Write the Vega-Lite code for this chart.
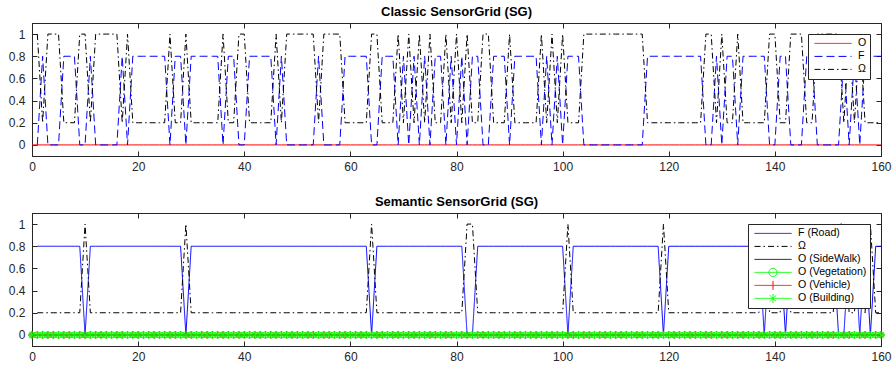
{
"$schema":"https://vega.github.io/schema/vega-lite/v6.json",
"background":"white",
"padding":{"left":7,"top":5,"right":0,"bottom":0},
"spacing":22,
"resolve":{"scale":{"color":"independent","strokeDash":"independent","x":"independent","y":"independent"},"legend":{"color":"independent","strokeDash":"independent"}},
"config":{
"font":"Liberation Sans",
"view":{"stroke":"#262626","strokeWidth":1},
"axis":{"domainColor":"#262626","domainWidth":1,"tickColor":"#262626","tickSize":-5,"tickWidth":1,"labelFontSize":12,"labelColor":"#262626","labelFont":"Liberation Sans","grid":false,"title":null,"labelFlush":false,"labelOverlap":false},
"title":{"fontSize":13,"fontWeight":"bold","color":"#000000","font":"Liberation Sans","offset":4},
"legend":{"orient":"top-right","offset":11,"padding":3,"strokeColor":"#262626","fillColor":"#ffffff","labelFontSize":10.6,"labelColor":"#000000","labelFont":"Liberation Sans","symbolSize":1369,"symbolStrokeWidth":1,"clipHeight":12.8,"rowPadding":0,"symbolOffset":3,"labelOffset":6,"cornerRadius":0,"title":null}
},
"datasets":{
"top":[
{"x":0,"O":0},
{"x":1,"O":0,"F":0,"Ω":1},{"x":2,"O":0,"F":0.8,"Ω":0.2},{"x":3,"O":0,"F":0,"Ω":1},{"x":4,"O":0,"F":0,"Ω":1},{"x":5,"O":0,"F":0,"Ω":1},
{"x":6,"O":0,"F":0.8,"Ω":0.2},{"x":7,"O":0,"F":0.8,"Ω":0.2},{"x":8,"O":0,"F":0.8,"Ω":0.2},{"x":9,"O":0,"F":0,"Ω":1},{"x":10,"O":0,"F":0,"Ω":1},
{"x":11,"O":0,"F":0.8,"Ω":0.2},{"x":12,"O":0,"F":0,"Ω":1},{"x":13,"O":0,"F":0,"Ω":1},{"x":14,"O":0,"F":0,"Ω":1},{"x":15,"O":0,"F":0,"Ω":1},
{"x":16,"O":0,"F":0,"Ω":1},{"x":17,"O":0,"F":0.8,"Ω":0.2},{"x":18,"O":0,"F":0,"Ω":1},{"x":19,"O":0,"F":0.8,"Ω":0.2},{"x":20,"O":0,"F":0.8,"Ω":0.2},
{"x":21,"O":0,"F":0.8,"Ω":0.2},{"x":22,"O":0,"F":0.8,"Ω":0.2},{"x":23,"O":0,"F":0.8,"Ω":0.2},{"x":24,"O":0,"F":0.8,"Ω":0.2},{"x":25,"O":0,"F":0.8,"Ω":0.2},
{"x":26,"O":0,"F":0,"Ω":1},{"x":27,"O":0,"F":0.8,"Ω":0.2},{"x":28,"O":0,"F":0.8,"Ω":0.2},{"x":29,"O":0,"F":0,"Ω":1},{"x":30,"O":0,"F":0.8,"Ω":0.2},
{"x":31,"O":0,"F":0.8,"Ω":0.2},{"x":32,"O":0,"F":0.8,"Ω":0.2},{"x":33,"O":0,"F":0.8,"Ω":0.2},{"x":34,"O":0,"F":0.8,"Ω":0.2},{"x":35,"O":0,"F":0.8,"Ω":0.2},
{"x":36,"O":0,"F":0,"Ω":1},{"x":37,"O":0,"F":0.8,"Ω":0.2},{"x":38,"O":0,"F":0.8,"Ω":0.2},{"x":39,"O":0,"F":0,"Ω":1},{"x":40,"O":0,"F":0,"Ω":1},
{"x":41,"O":0,"F":0.8,"Ω":0.2},{"x":42,"O":0,"F":0.8,"Ω":0.2},{"x":43,"O":0,"F":0.8,"Ω":0.2},{"x":44,"O":0,"F":0.8,"Ω":0.2},{"x":45,"O":0,"F":0.8,"Ω":0.2},
{"x":46,"O":0,"F":0,"Ω":1},{"x":47,"O":0,"F":0.8,"Ω":0.2},{"x":48,"O":0,"F":0,"Ω":1},{"x":49,"O":0,"F":0,"Ω":1},{"x":50,"O":0,"F":0,"Ω":1},
{"x":51,"O":0,"F":0,"Ω":1},{"x":52,"O":0,"F":0,"Ω":1},{"x":53,"O":0,"F":0,"Ω":1},{"x":54,"O":0,"F":0.8,"Ω":0.2},{"x":55,"O":0,"F":0,"Ω":1},
{"x":56,"O":0,"F":0,"Ω":1},{"x":57,"O":0,"F":0,"Ω":1},{"x":58,"O":0,"F":0,"Ω":1},{"x":59,"O":0,"F":0.8,"Ω":0.2},{"x":60,"O":0,"F":0.8,"Ω":0.2},
{"x":61,"O":0,"F":0.8,"Ω":0.2},{"x":62,"O":0,"F":0.8,"Ω":0.2},{"x":63,"O":0,"F":0.8,"Ω":0.2},{"x":64,"O":0,"F":0,"Ω":1},{"x":65,"O":0,"F":0,"Ω":1},
{"x":66,"O":0,"F":0.8,"Ω":0.2},{"x":67,"O":0,"F":0.8,"Ω":0.2},{"x":68,"O":0,"F":0.8,"Ω":0.2},{"x":69,"O":0,"F":0,"Ω":1},{"x":70,"O":0,"F":0.8,"Ω":0.2},
{"x":71,"O":0,"F":0,"Ω":1},{"x":72,"O":0,"F":0.8,"Ω":0.2},{"x":73,"O":0,"F":0,"Ω":1},{"x":74,"O":0,"F":0.8,"Ω":0.2},{"x":75,"O":0,"F":0,"Ω":1},
{"x":76,"O":0,"F":0.8,"Ω":0.2},{"x":77,"O":0,"F":0.8,"Ω":0.2},{"x":78,"O":0,"F":0,"Ω":1},{"x":79,"O":0,"F":0.8,"Ω":0.2},{"x":80,"O":0,"F":0,"Ω":1},
{"x":81,"O":0,"F":0.8,"Ω":0.2},{"x":82,"O":0,"F":0,"Ω":1},{"x":83,"O":0,"F":0.8,"Ω":0.2},{"x":84,"O":0,"F":0.8,"Ω":0.2},{"x":85,"O":0,"F":0,"Ω":1},
{"x":86,"O":0,"F":0,"Ω":1},{"x":87,"O":0,"F":0.8,"Ω":0.2},{"x":88,"O":0,"F":0.8,"Ω":0.2},{"x":89,"O":0,"F":0.8,"Ω":0.2},{"x":90,"O":0,"F":0,"Ω":1},
{"x":91,"O":0,"F":0.8,"Ω":0.2},{"x":92,"O":0,"F":0.8,"Ω":0.2},{"x":93,"O":0,"F":0.8,"Ω":0.2},{"x":94,"O":0,"F":0.8,"Ω":0.2},{"x":95,"O":0,"F":0.8,"Ω":0.2},
{"x":96,"O":0,"F":0,"Ω":1},{"x":97,"O":0,"F":0.8,"Ω":0.2},{"x":98,"O":0,"F":0,"Ω":1},{"x":99,"O":0,"F":0.8,"Ω":0.2},{"x":100,"O":0,"F":0,"Ω":1},
{"x":101,"O":0,"F":0.8,"Ω":0.2},{"x":102,"O":0,"F":0.8,"Ω":0.2},{"x":103,"O":0,"F":0.8,"Ω":0.2},{"x":104,"O":0,"F":0,"Ω":1},{"x":105,"O":0,"F":0,"Ω":1},
{"x":106,"O":0,"F":0,"Ω":1},{"x":107,"O":0,"F":0,"Ω":1},{"x":108,"O":0,"F":0,"Ω":1},{"x":109,"O":0,"F":0,"Ω":1},{"x":110,"O":0,"F":0,"Ω":1},
{"x":111,"O":0,"F":0,"Ω":1},{"x":112,"O":0,"F":0,"Ω":1},{"x":113,"O":0,"F":0,"Ω":1},{"x":114,"O":0,"F":0,"Ω":1},{"x":115,"O":0,"F":0,"Ω":1},
{"x":116,"O":0,"F":0.8,"Ω":0.2},{"x":117,"O":0,"F":0.8,"Ω":0.2},{"x":118,"O":0,"F":0.8,"Ω":0.2},{"x":119,"O":0,"F":0.8,"Ω":0.2},{"x":120,"O":0,"F":0.8,"Ω":0.2},
{"x":121,"O":0,"F":0.8,"Ω":0.2},{"x":122,"O":0,"F":0.8,"Ω":0.2},{"x":123,"O":0,"F":0.8,"Ω":0.2},{"x":124,"O":0,"F":0.8,"Ω":0.2},{"x":125,"O":0,"F":0.8,"Ω":0.2},
{"x":126,"O":0,"F":0.8,"Ω":0.2},{"x":127,"O":0,"F":0,"Ω":1},{"x":128,"O":0,"F":0,"Ω":1},{"x":129,"O":0,"F":0.8,"Ω":0.2},{"x":130,"O":0,"F":0,"Ω":1},
{"x":131,"O":0,"F":0.8,"Ω":0.2},{"x":132,"O":0,"F":0.8,"Ω":0.2},{"x":133,"O":0,"F":0,"Ω":1},{"x":134,"O":0,"F":0.8,"Ω":0.2},{"x":135,"O":0,"F":0.8,"Ω":0.2},
{"x":136,"O":0,"F":0.8,"Ω":0.2},{"x":137,"O":0,"F":0.8,"Ω":0.2},{"x":138,"O":0,"F":0.8,"Ω":0.2},{"x":139,"O":0,"F":0,"Ω":1},{"x":140,"O":0,"F":0,"Ω":1},
{"x":141,"O":0,"F":0.8,"Ω":0.2},{"x":142,"O":0,"F":0.8,"Ω":0.2},{"x":143,"O":0,"F":0,"Ω":1},{"x":144,"O":0,"F":0,"Ω":1},{"x":145,"O":0,"F":0,"Ω":1},
{"x":146,"O":0,"F":0.8,"Ω":0.2},{"x":147,"O":0,"F":0.8,"Ω":0.2},{"x":148,"O":0,"F":0,"Ω":1},{"x":149,"O":0,"F":0,"Ω":1},{"x":150,"O":0,"F":0,"Ω":1},
{"x":151,"O":0,"F":0,"Ω":1},{"x":152,"O":0,"F":0,"Ω":1},{"x":153,"O":0,"F":0.8,"Ω":0.2},{"x":154,"O":0,"F":0,"Ω":1},{"x":155,"O":0,"F":0.8,"Ω":0.2},
{"x":156,"O":0,"F":0,"Ω":1},{"x":157,"O":0,"F":0.8,"Ω":0.2},{"x":158,"O":0,"F":0.8,"Ω":0.2},{"x":159,"O":0,"F":0.8,"Ω":0.2},{"x":160,"O":0,"F":0.8,"Ω":0.2}
],
"bot":[
{"x":0,"O":0},
{"x":1,"O":0,"F":0.8,"Ω":0.2},{"x":2,"O":0,"F":0.8,"Ω":0.2},{"x":3,"O":0,"F":0.8,"Ω":0.2},{"x":4,"O":0,"F":0.8,"Ω":0.2},{"x":5,"O":0,"F":0.8,"Ω":0.2},
{"x":6,"O":0,"F":0.8,"Ω":0.2},{"x":7,"O":0,"F":0.8,"Ω":0.2},{"x":8,"O":0,"F":0.8,"Ω":0.2},{"x":9,"O":0,"F":0.8,"Ω":0.2},{"x":10,"O":0,"F":0,"Ω":1},
{"x":11,"O":0,"F":0.8,"Ω":0.2},{"x":12,"O":0,"F":0.8,"Ω":0.2},{"x":13,"O":0,"F":0.8,"Ω":0.2},{"x":14,"O":0,"F":0.8,"Ω":0.2},{"x":15,"O":0,"F":0.8,"Ω":0.2},
{"x":16,"O":0,"F":0.8,"Ω":0.2},{"x":17,"O":0,"F":0.8,"Ω":0.2},{"x":18,"O":0,"F":0.8,"Ω":0.2},{"x":19,"O":0,"F":0.8,"Ω":0.2},{"x":20,"O":0,"F":0.8,"Ω":0.2},
{"x":21,"O":0,"F":0.8,"Ω":0.2},{"x":22,"O":0,"F":0.8,"Ω":0.2},{"x":23,"O":0,"F":0.8,"Ω":0.2},{"x":24,"O":0,"F":0.8,"Ω":0.2},{"x":25,"O":0,"F":0.8,"Ω":0.2},
{"x":26,"O":0,"F":0.8,"Ω":0.2},{"x":27,"O":0,"F":0.8,"Ω":0.2},{"x":28,"O":0,"F":0.8,"Ω":0.2},{"x":29,"O":0,"F":0,"Ω":1},{"x":30,"O":0,"F":0.8,"Ω":0.2},
{"x":31,"O":0,"F":0.8,"Ω":0.2},{"x":32,"O":0,"F":0.8,"Ω":0.2},{"x":33,"O":0,"F":0.8,"Ω":0.2},{"x":34,"O":0,"F":0.8,"Ω":0.2},{"x":35,"O":0,"F":0.8,"Ω":0.2},
{"x":36,"O":0,"F":0.8,"Ω":0.2},{"x":37,"O":0,"F":0.8,"Ω":0.2},{"x":38,"O":0,"F":0.8,"Ω":0.2},{"x":39,"O":0,"F":0.8,"Ω":0.2},{"x":40,"O":0,"F":0.8,"Ω":0.2},
{"x":41,"O":0,"F":0.8,"Ω":0.2},{"x":42,"O":0,"F":0.8,"Ω":0.2},{"x":43,"O":0,"F":0.8,"Ω":0.2},{"x":44,"O":0,"F":0.8,"Ω":0.2},{"x":45,"O":0,"F":0.8,"Ω":0.2},
{"x":46,"O":0,"F":0.8,"Ω":0.2},{"x":47,"O":0,"F":0.8,"Ω":0.2},{"x":48,"O":0,"F":0.8,"Ω":0.2},{"x":49,"O":0,"F":0.8,"Ω":0.2},{"x":50,"O":0,"F":0.8,"Ω":0.2},
{"x":51,"O":0,"F":0.8,"Ω":0.2},{"x":52,"O":0,"F":0.8,"Ω":0.2},{"x":53,"O":0,"F":0.8,"Ω":0.2},{"x":54,"O":0,"F":0.8,"Ω":0.2},{"x":55,"O":0,"F":0.8,"Ω":0.2},
{"x":56,"O":0,"F":0.8,"Ω":0.2},{"x":57,"O":0,"F":0.8,"Ω":0.2},{"x":58,"O":0,"F":0.8,"Ω":0.2},{"x":59,"O":0,"F":0.8,"Ω":0.2},{"x":60,"O":0,"F":0.8,"Ω":0.2},
{"x":61,"O":0,"F":0.8,"Ω":0.2},{"x":62,"O":0,"F":0.8,"Ω":0.2},{"x":63,"O":0,"F":0.8,"Ω":0.2},{"x":64,"O":0,"F":0,"Ω":1},{"x":65,"O":0,"F":0.8,"Ω":0.2},
{"x":66,"O":0,"F":0.8,"Ω":0.2},{"x":67,"O":0,"F":0.8,"Ω":0.2},{"x":68,"O":0,"F":0.8,"Ω":0.2},{"x":69,"O":0,"F":0.8,"Ω":0.2},{"x":70,"O":0,"F":0.8,"Ω":0.2},
{"x":71,"O":0,"F":0.8,"Ω":0.2},{"x":72,"O":0,"F":0.8,"Ω":0.2},{"x":73,"O":0,"F":0.8,"Ω":0.2},{"x":74,"O":0,"F":0.8,"Ω":0.2},{"x":75,"O":0,"F":0.8,"Ω":0.2},
{"x":76,"O":0,"F":0.8,"Ω":0.2},{"x":77,"O":0,"F":0.8,"Ω":0.2},{"x":78,"O":0,"F":0.8,"Ω":0.2},{"x":79,"O":0,"F":0.8,"Ω":0.2},{"x":80,"O":0,"F":0.8,"Ω":0.2},
{"x":81,"O":0,"F":0.8,"Ω":0.2},{"x":82,"O":0,"F":0,"Ω":1},{"x":83,"O":0,"F":0,"Ω":1},{"x":84,"O":0,"F":0.8,"Ω":0.2},{"x":85,"O":0,"F":0.8,"Ω":0.2},
{"x":86,"O":0,"F":0.8,"Ω":0.2},{"x":87,"O":0,"F":0.8,"Ω":0.2},{"x":88,"O":0,"F":0.8,"Ω":0.2},{"x":89,"O":0,"F":0.8,"Ω":0.2},{"x":90,"O":0,"F":0.8,"Ω":0.2},
{"x":91,"O":0,"F":0.8,"Ω":0.2},{"x":92,"O":0,"F":0.8,"Ω":0.2},{"x":93,"O":0,"F":0.8,"Ω":0.2},{"x":94,"O":0,"F":0.8,"Ω":0.2},{"x":95,"O":0,"F":0.8,"Ω":0.2},
{"x":96,"O":0,"F":0.8,"Ω":0.2},{"x":97,"O":0,"F":0.8,"Ω":0.2},{"x":98,"O":0,"F":0.8,"Ω":0.2},{"x":99,"O":0,"F":0.8,"Ω":0.2},{"x":100,"O":0,"F":0.8,"Ω":0.2},
{"x":101,"O":0,"F":0,"Ω":1},{"x":102,"O":0,"F":0.8,"Ω":0.2},{"x":103,"O":0,"F":0.8,"Ω":0.2},{"x":104,"O":0,"F":0.8,"Ω":0.2},{"x":105,"O":0,"F":0.8,"Ω":0.2},
{"x":106,"O":0,"F":0.8,"Ω":0.2},{"x":107,"O":0,"F":0.8,"Ω":0.2},{"x":108,"O":0,"F":0.8,"Ω":0.2},{"x":109,"O":0,"F":0.8,"Ω":0.2},{"x":110,"O":0,"F":0.8,"Ω":0.2},
{"x":111,"O":0,"F":0.8,"Ω":0.2},{"x":112,"O":0,"F":0.8,"Ω":0.2},{"x":113,"O":0,"F":0.8,"Ω":0.2},{"x":114,"O":0,"F":0.8,"Ω":0.2},{"x":115,"O":0,"F":0.8,"Ω":0.2},
{"x":116,"O":0,"F":0.8,"Ω":0.2},{"x":117,"O":0,"F":0.8,"Ω":0.2},{"x":118,"O":0,"F":0.8,"Ω":0.2},{"x":119,"O":0,"F":0,"Ω":1},{"x":120,"O":0,"F":0.8,"Ω":0.2},
{"x":121,"O":0,"F":0.8,"Ω":0.2},{"x":122,"O":0,"F":0.8,"Ω":0.2},{"x":123,"O":0,"F":0.8,"Ω":0.2},{"x":124,"O":0,"F":0.8,"Ω":0.2},{"x":125,"O":0,"F":0.8,"Ω":0.2},
{"x":126,"O":0,"F":0.8,"Ω":0.2},{"x":127,"O":0,"F":0.8,"Ω":0.2},{"x":128,"O":0,"F":0.8,"Ω":0.2},{"x":129,"O":0,"F":0.8,"Ω":0.2},{"x":130,"O":0,"F":0.8,"Ω":0.2},
{"x":131,"O":0,"F":0.8,"Ω":0.2},{"x":132,"O":0,"F":0.8,"Ω":0.2},{"x":133,"O":0,"F":0.8,"Ω":0.2},{"x":134,"O":0,"F":0.8,"Ω":0.2},{"x":135,"O":0,"F":0.8,"Ω":0.2},
{"x":136,"O":0,"F":0.8,"Ω":0.2},{"x":137,"O":0,"F":0.8,"Ω":0.2},{"x":138,"O":0,"F":0,"Ω":1},{"x":139,"O":0,"F":0.8,"Ω":0.2},{"x":140,"O":0,"F":0.8,"Ω":0.2},
{"x":141,"O":0,"F":0.8,"Ω":0.2},{"x":142,"O":0,"F":0,"Ω":1},{"x":143,"O":0,"F":0.8,"Ω":0.2},{"x":144,"O":0,"F":0.8,"Ω":0.2},{"x":145,"O":0,"F":0.8,"Ω":0.2},
{"x":146,"O":0,"F":0.8,"Ω":0.2},{"x":147,"O":0,"F":0.8,"Ω":0.2},{"x":148,"O":0,"F":0.8,"Ω":0.2},{"x":149,"O":0,"F":0.8,"Ω":0.2},{"x":150,"O":0,"F":0.8,"Ω":0.2},
{"x":151,"O":0,"F":0.8,"Ω":0.2},{"x":152,"O":0,"F":0,"Ω":1},{"x":153,"O":0,"F":0,"Ω":1},{"x":154,"O":0,"F":0.8,"Ω":0.2},{"x":155,"O":0,"F":0.8,"Ω":0.2},
{"x":156,"O":0,"F":0,"Ω":1},{"x":157,"O":0,"F":0.8,"Ω":0.2},{"x":158,"O":0,"F":0,"Ω":1},{"x":159,"O":0,"F":0.8,"Ω":0.2},{"x":160,"O":0,"F":0.8,"Ω":0.2}
]
},
"vconcat":[
{
"title":"Classic SensorGrid (SG)",
"width":849,"height":133,
"data":{"name":"top"},
"transform":[{"fold":["O","F","Ω"],"as":["s","v"]}],
"layer":[
{"mark":{"type":"line","strokeWidth":1,"clip":true},
"encoding":{
"x":{"field":"x","type":"quantitative","scale":{"domain":[0,160],"nice":false,"zero":false},"axis":{"orient":"bottom","values":[0,20,40,60,80,100,120,140,160],"format":"d","labelPadding":10}},
"y":{"field":"v","type":"quantitative","scale":{"domain":[-0.1,1.1],"nice":false,"zero":false},"axis":{"orient":"left","values":[0,0.2,0.4,0.6,0.8,1],"format":"~g","labelPadding":12}},
"color":{"field":"s","type":"nominal","scale":{"domain":["O","F","Ω"],"range":["#ff0000","#0000ff","#000000"]},
"legend":{"symbolType":"stroke","encode":{"symbols":{"update":{"shape":{"value":"M-1,0H1"},"stroke":{"signal":"datum.value === 'O' ? '#ff0000' : datum.value === 'F' ? '#0000ff' : '#000000'"},"strokeDash":{"signal":"datum.value === 'F' ? [8,4] : datum.value === 'Ω' ? [6,3,1.5,3] : [1,0]"},"fill":{"value":"transparent"},"strokeWidth":{"value":1},"opacity":{"value":1}}}}}},
"strokeDash":{"field":"s","type":"nominal","scale":{"domain":["O","F","Ω"],"range":[[1,0],[8,4],[6,3,1.5,3]]},"legend":null}
}},
{"mark":{"type":"point","opacity":0},
"encoding":{
"x":{"field":"x","type":"quantitative","scale":{"domain":[0,160],"nice":false,"zero":false},"axis":{"orient":"top","values":[0,20,40,60,80,100,120,140,160],"labels":false}},
"y":{"field":"v","type":"quantitative","scale":{"domain":[-0.1,1.1],"nice":false,"zero":false},"axis":{"orient":"right","values":[0,0.2,0.4,0.6,0.8,1],"labels":false}}
}}
]
},
{
"title":"Semantic SensorGrid (SG)",
"width":849,"height":133,
"data":{"name":"bot"},
"layer":[
{"mark":{"type":"line","strokeWidth":1,"clip":true},
"encoding":{
"x":{"field":"x","type":"quantitative","scale":{"domain":[0,160],"nice":false,"zero":false},"axis":{"orient":"bottom","values":[0,20,40,60,80,100,120,140,160],"format":"d","labelPadding":10}},
"y":{"field":"F","type":"quantitative","scale":{"domain":[-0.1,1.1],"nice":false,"zero":false},"axis":{"orient":"left","values":[0,0.2,0.4,0.6,0.8,1],"format":"~g","labelPadding":12}},
"color":{"datum":"F (Road)","type":"nominal","scale":{"domain":["F (Road)","Ω","O (SideWalk)","O (Vegetation)","O (Vehicle)","O (Building)"],"range":["#0000ff","#000000","#000000","#00ff00","#ff0000","#00ff00"]},
"legend":{"labelExpr":"datum.label + '    '","encode":{"symbols":{"update":{"shape":{"signal":"datum.value === 'O (Vegetation)' ? 'M-1,0H1M-0.22,0A0.22,0.22,0,1,0,0.22,0A0.22,0.22,0,1,0,-0.22,0' : datum.value === 'O (Vehicle)' ? 'M-1,0H1M0,-0.24V0.24' : datum.value === 'O (Building)' ? 'M-1,0H1M0,-0.24V0.24M-0.17,-0.17L0.17,0.17M-0.17,0.17L0.17,-0.17' : 'M-1,0H1'"},"stroke":{"signal":"datum.value === 'F (Road)' ? '#0000ff' : datum.value === 'O (Vegetation)' ? '#00ff00' : datum.value === 'O (Building)' ? '#00ff00' : datum.value === 'O (Vehicle)' ? '#ff0000' : '#000000'"},"strokeDash":{"signal":"datum.value === 'Ω' ? [6,3,1.5,3] : [1,0]"},"fill":{"value":"transparent"},"strokeWidth":{"value":1},"opacity":{"value":1}}}}}},
"strokeDash":{"datum":"F (Road)","type":"nominal","scale":{"domain":["F (Road)","Ω","O (SideWalk)","O (Vegetation)","O (Vehicle)","O (Building)"],"range":[[1,0],[6,3,1.5,3],[1,0],[1,0],[1,0],[1,0]]},"legend":null}
}},
{"mark":{"type":"line","strokeWidth":1,"clip":true},
"encoding":{
"x":{"field":"x","type":"quantitative","axis":null},
"y":{"field":"Ω","type":"quantitative","axis":null},
"color":{"datum":"Ω","type":"nominal"},
"strokeDash":{"datum":"Ω","type":"nominal","legend":null}
}},
{"mark":{"type":"line","strokeWidth":1,"clip":true},
"encoding":{
"x":{"field":"x","type":"quantitative","axis":null},
"y":{"field":"O","type":"quantitative","axis":null},
"color":{"datum":"O (SideWalk)","type":"nominal"},
"strokeDash":{"datum":"O (SideWalk)","type":"nominal","legend":null}
}},
{"mark":{"type":"point","shape":"circle","filled":false,"size":40,"strokeWidth":1,"opacity":1},
"encoding":{
"x":{"field":"x","type":"quantitative","axis":null},
"y":{"field":"O","type":"quantitative","axis":null},
"color":{"datum":"O (Vegetation)","type":"nominal"}
}},
{"mark":{"type":"point","shape":"M-1,0H1M0,-1V1","filled":false,"size":49,"strokeWidth":1,"opacity":1},
"encoding":{
"x":{"field":"x","type":"quantitative","axis":null},
"y":{"field":"O","type":"quantitative","axis":null},
"color":{"datum":"O (Vehicle)","type":"nominal"}
}},
{"mark":{"type":"point","shape":"M-1,0H1M0,-1V1M-0.7,-0.7L0.7,0.7M-0.7,0.7L0.7,-0.7","filled":false,"size":49,"strokeWidth":1,"opacity":1},
"encoding":{
"x":{"field":"x","type":"quantitative","axis":null},
"y":{"field":"O","type":"quantitative","axis":null},
"color":{"datum":"O (Building)","type":"nominal"}
}},
{"mark":{"type":"point","opacity":0},
"encoding":{
"x":{"field":"x","type":"quantitative","axis":{"orient":"top","values":[0,20,40,60,80,100,120,140,160],"labels":false}},
"y":{"field":"O","type":"quantitative","axis":{"orient":"right","values":[0,0.2,0.4,0.6,0.8,1],"labels":false}}
}}
]
}
]
}
